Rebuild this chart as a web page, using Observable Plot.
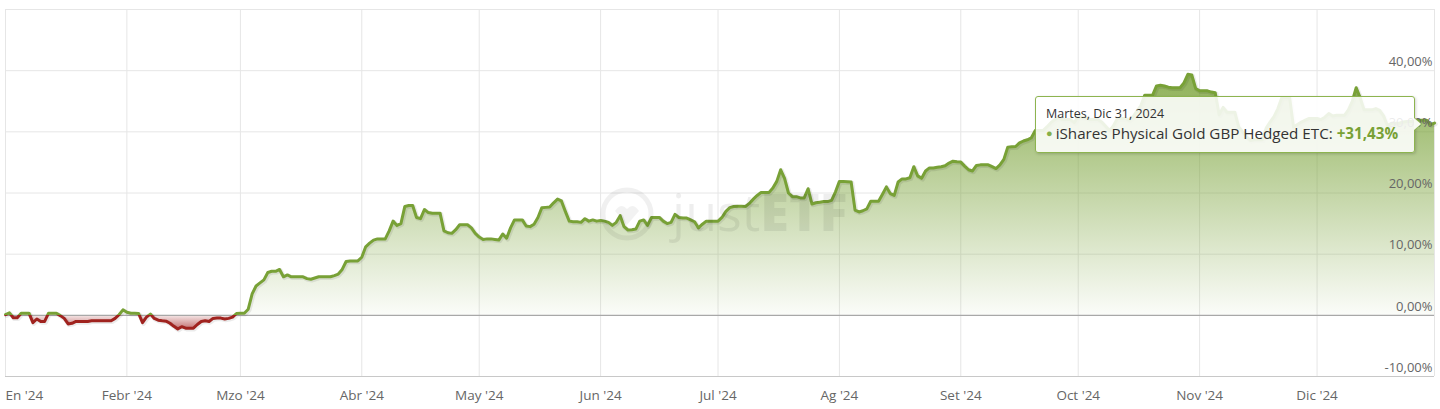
<!DOCTYPE html>
<html>
<head>
<meta charset="utf-8">
<script src="https://cdn.jsdelivr.net/npm/d3@7"></script>
<script src="https://cdn.jsdelivr.net/npm/@observablehq/plot@0.6"></script>
<style>
  html, body { margin: 0; padding: 0; background: #fff; }
  #wrap { position: relative; width: 1440px; height: 409px; font-family: "Open Sans", sans-serif; overflow: hidden; }
  #wrap svg { display: block; }
  .tip { position: absolute; box-sizing: border-box; background: rgba(255,255,255,0.87);
         border: 1px solid #8db44f; border-radius: 3px; box-shadow: 1px 1px 3px rgba(0,0,0,0.18);
         padding: 8px 10px 0 10px; color: #333; white-space: nowrap; }
  .tip .d { font-size: 12.5px; line-height: 17px; }
  .tip .s { font-size: 15.2px; line-height: 21px; }
  .tip .b { color: #86b04a; font-size: 11px; vertical-align: 2px; margin-right: 3px; }
  .tip .v { color: #78a136; font-weight: 700; }
  .tip::before { content: ""; position: absolute; right: -8px; top: 50%; margin-top: -7px;
         border-style: solid; border-width: 7px 0 7px 8px; border-color: transparent transparent transparent #8db44f; }
  .tip::after { content: ""; position: absolute; right: -6.6px; top: 50%; margin-top: -6px;
         border-style: solid; border-width: 6px 0 6px 7px; border-color: transparent transparent transparent #f8faf4; }
  .wm { position: absolute; pointer-events: none; }
</style>
</head>
<body>
<div id="wrap"></div>
<script>
// ---- Data: daily performance (%) of iShares Physical Gold GBP Hedged ETC, 2024 ----
const jan = [0.1, 0.4, -0.4, -0.4, 0.35, 0.35, 0.35, -1.2, -0.6, -1.0, -1.0, 0.35, 0.35, 0.35, -0.05, -0.5, -1.4, -1.3, -1.0, -1.0, -1.0, -1.0, -0.9, -0.9, -0.9, -0.9, -0.9, -0.9, -0.5, 0.1, 0.9];
const feb = [0.5, 0.35, 0.35, 0.3, -1.2, -0.3, 0.2, -0.5, -0.8, -0.9, -0.95, -1.3, -1.8, -2.25, -1.85, -2.1, -2.1, -2.1, -1.5, -1.0, -0.9, -1.0, -0.5, -0.45, -0.45, -0.6, -0.5, -0.3, 0.3];
const mar = [0.35, 0.35, 1.0, 3.5, 4.8, 5.3, 5.8, 7.0, 7.2, 7.2, 7.5, 6.3, 6.6, 6.3, 6.3, 6.3, 6.3, 6.0, 5.9, 6.1, 6.3, 6.3, 6.3, 6.3, 6.5, 6.75, 7.5, 8.8, 8.9, 8.9, 8.9];
const apr = [9.5, 11.2, 11.8, 12.3, 12.5, 12.5, 12.5, 13.8, 15.4, 14.7, 15.0, 17.8, 17.95, 17.95, 16.0, 15.8, 17.3, 16.8, 16.7, 16.7, 16.7, 13.8, 13.5, 13.4, 14.0, 14.8, 14.8, 14.8, 14.3, 13.4];
const may = [12.8, 12.4, 12.5, 12.5, 12.4, 12.3, 13.3, 12.6, 14.3, 15.6, 15.6, 15.6, 14.6, 14.5, 14.9, 16.0, 17.6, 17.65, 17.7, 18.4, 19.0, 18.7, 17.0, 15.4, 15.3, 15.3, 15.2, 15.8, 15.4, 15.6, 15.4];
const jun = [15.5, 15.4, 15.2, 14.7, 15.2, 16.3, 14.5, 13.95, 14.0, 14.1, 15.4, 15.6, 14.7, 16.0, 16.0, 16.0, 15.4, 15.0, 15.2, 16.5, 16.0, 15.9, 15.9, 15.6, 15.3, 14.3, 14.9, 15.4, 15.4, 15.4];
const jul = [15.4, 16.0, 17.0, 17.6, 17.8, 17.85, 17.85, 17.8, 18.3, 19.0, 19.6, 20.1, 20.1, 20.1, 20.8, 21.9, 23.8, 22.4, 20.0, 19.4, 19.4, 19.2, 19.2, 20.7, 18.2, 18.4, 18.5, 18.6, 18.6, 18.8, 20.2];
const aug = [21.9, 21.9, 21.85, 21.8, 17.2, 16.9, 17.1, 17.4, 18.65, 18.65, 18.65, 19.8, 21.0, 19.9, 19.6, 21.8, 22.3, 22.3, 22.5, 24.3, 22.8, 22.4, 23.6, 24.1, 24.1, 24.2, 24.3, 24.45, 24.9, 25.2, 25.1];
const sep = [25.05, 24.4, 23.8, 23.6, 24.5, 24.6, 24.6, 24.6, 24.3, 24.0, 24.6, 25.5, 27.5, 27.55, 27.6, 28.2, 28.5, 28.7, 29.0, 30.2, 30.2, 30.2, 30.8, 31.5, 32.0, 32.3, 32.0, 32.0, 32.0, 31.5];
const oct = [32.5, 32.4, 32.3, 32.0, 32.0, 32.0, 31.6, 30.9, 30.2, 31.0, 32.2, 32.2, 32.2, 31.9, 32.5, 33.4, 34.3, 36.0, 36.0, 36.0, 37.5, 37.6, 37.5, 37.3, 37.2, 37.2, 37.2, 38.0, 39.4, 39.3, 37.1];
const nov = [36.7, 36.7, 36.7, 36.5, 36.4, 32.8, 34.0, 33.2, 33.2, 33.2, 30.8, 30.0, 29.2, 28.6, 28.7, 28.7, 28.7, 30.6, 31.6, 32.5, 33.8, 35.6, 35.6, 35.6, 30.8, 31.2, 31.6, 31.9, 32.2, 32.2];
const dec = [32.2, 32.0, 32.4, 33.0, 32.6, 32.7, 32.7, 32.7, 33.6, 35.0, 37.2, 35.6, 33.6, 33.6, 33.6, 33.8, 33.5, 32.6, 31.0, 31.4, 31.4, 31.4, 31.6, 31.7, 31.7, 31.7, 31.9, 31.9, 31.9, 31.2, 31.43];
const months = [jan, feb, mar, apr, may, jun, jul, aug, sep, oct, nov, dec];

const monthLabels = ["En '24", "Febr '24", "Mzo '24", "Abr '24", "May '24", "Jun '24", "Jul '24", "Ag '24", "Set '24", "Oct '24", "Nov '24", "Dic '24"];
const yTicks = [-10, 0, 10, 20, 30, 40];
const yGrid = [10, 20, 30, 40, 50];
const seriesName = "iShares Physical Gold GBP Hedged ETC";
const tipDate = "Martes, Dic 31, 2024";

// ---- Build table ----
const data = [];
months.forEach((vals, m) => vals.forEach((v, i) => data.push({date: new Date(Date.UTC(2024, m, i + 1)), value: v})));
const monthStarts = monthLabels.map((label, m) => ({date: new Date(Date.UTC(2024, m, 1)), label}));
const start = data[0].date, end = data[data.length - 1].date;
const fmt = v => v.toFixed(2).replace(".", ",") + "%";
const green = "#78a136", red = "#a52a2a";

const plot = Plot.plot({
  width: 1440,
  height: 409,
  marginLeft: 5,
  marginRight: 6,
  marginTop: 9,
  marginBottom: 33,
  x: {type: "utc", domain: [start, end], axis: null},
  y: {domain: [-10, 50], axis: null},
  style: {fontFamily: "Open Sans, sans-serif", background: "transparent"},
  marks: [
    Plot.ruleY(yGrid, {stroke: "#e6e6e6", strokeWidth: 1}),
    Plot.ruleX(monthStarts, {x: "date", stroke: "#e6e6e6", strokeWidth: 1}),
    Plot.ruleX([end], {stroke: "#e6e6e6", strokeWidth: 1}),
    Plot.areaY(data, {x: "date", y1: 0, y2: "value", fill: "url(#areaGrad)", curve: "linear"}),
    Plot.ruleY([0], {stroke: "#a8a8a8", strokeWidth: 1.2}),
    Plot.ruleY([-10], {stroke: "#c8c8c8", strokeWidth: 1}),
    Plot.line(data, {x: "date", y: "value", stroke: "#000", strokeOpacity: 0.08, strokeWidth: 4.5, dy: 1, dx: 1, strokeLinejoin: "round"}),
    Plot.line(data, {x: "date", y: "value", stroke: "url(#lineGrad)", strokeWidth: 3, strokeLinejoin: "round", strokeLinecap: "round"}),
    Plot.text(yTicks, {x: end, y: d => d, text: d => fmt(d), textAnchor: "end", dx: -2, dy: -9, fontSize: 13, fill: "#666"}),
    Plot.text(monthStarts, {x: "date", y: -10, text: "label", textAnchor: "middle", lineAnchor: "middle", dy: 19, fontSize: 13.5, fill: "#666"})
  ]
});

const wrap = document.getElementById("wrap");
wrap.appendChild(plot);

const xs = plot.scale("x"), ys = plot.scale("y");
const yTop = ys.apply(40), yZero = ys.apply(0), yBot = ys.apply(-3);
const off0 = (yZero - yTop) / (yBot - yTop);
const svg = d3.select(plot);
const defs = svg.insert("defs", ":first-child");
const ag = defs.append("linearGradient").attr("id", "areaGrad").attr("gradientUnits", "userSpaceOnUse")
  .attr("x1", 0).attr("x2", 0).attr("y1", yTop).attr("y2", yBot);
ag.append("stop").attr("offset", 0).attr("stop-color", green).attr("stop-opacity", 0.85);
ag.append("stop").attr("offset", off0).attr("stop-color", green).attr("stop-opacity", 0.03);
ag.append("stop").attr("offset", off0).attr("stop-color", red).attr("stop-opacity", 0.1);
ag.append("stop").attr("offset", 1).attr("stop-color", red).attr("stop-opacity", 0.85);
const lg = defs.append("linearGradient").attr("id", "lineGrad").attr("gradientUnits", "userSpaceOnUse")
  .attr("x1", 0).attr("x2", 0).attr("y1", yTop).attr("y2", yBot);
lg.append("stop").attr("offset", 0).attr("stop-color", green);
lg.append("stop").attr("offset", off0).attr("stop-color", green);
lg.append("stop").attr("offset", off0).attr("stop-color", "#a0231f");
lg.append("stop").attr("offset", 1).attr("stop-color", "#a0231f");

// first x label kept inside the plot (anchored at start)
svg.selectAll("text").filter(function() { return this.textContent === monthLabels[0]; }).attr("text-anchor", "start");

// Watermark (justETF)
const cx = xs.apply(new Date(Date.UTC(2024, 5, 8))), cy = ys.apply(16);
const wm = document.createElement("div");
wm.className = "wm";
wm.style.left = (cx - 27) + "px";
wm.style.top = (cy - 30) + "px";
wm.innerHTML = `<svg width="260" height="70" style="overflow:visible"><circle cx="27" cy="27" r="24" fill="none" stroke="rgba(0,0,0,0.06)" stroke-width="5"/>
<path d="M15 24 q6 -9 12 -2 q6 -7 12 2 l-12 14 z" fill="rgba(0,0,0,0.05)"/>
<text x="72" y="44" font-family="Open Sans, sans-serif" font-size="52" fill="rgba(0,0,0,0.065)"><tspan font-weight="400">just</tspan><tspan font-weight="800">ETF</tspan></text></svg>`;
wrap.appendChild(wm);

// Tooltip anchored at the last point
const last = data[data.length - 1];
const px = xs.apply(last.date), py = ys.apply(last.value);
const tip = document.createElement("div");
tip.className = "tip";
const tipW = 380, tipH = 57;
tip.style.width = tipW + "px";
tip.style.height = tipH + "px";
tip.style.left = (px - 19 - tipW) + "px";
tip.style.top = (py - 27) + "px";
const vstr = (last.value >= 0 ? "+" : "") + fmt(last.value);
tip.innerHTML = `<div class="d">${tipDate}</div><div class="s"><span class="b">●</span>${seriesName}: <span class="v">${vstr}</span></div>`;
wrap.appendChild(tip);
</script>
</body>
</html>
